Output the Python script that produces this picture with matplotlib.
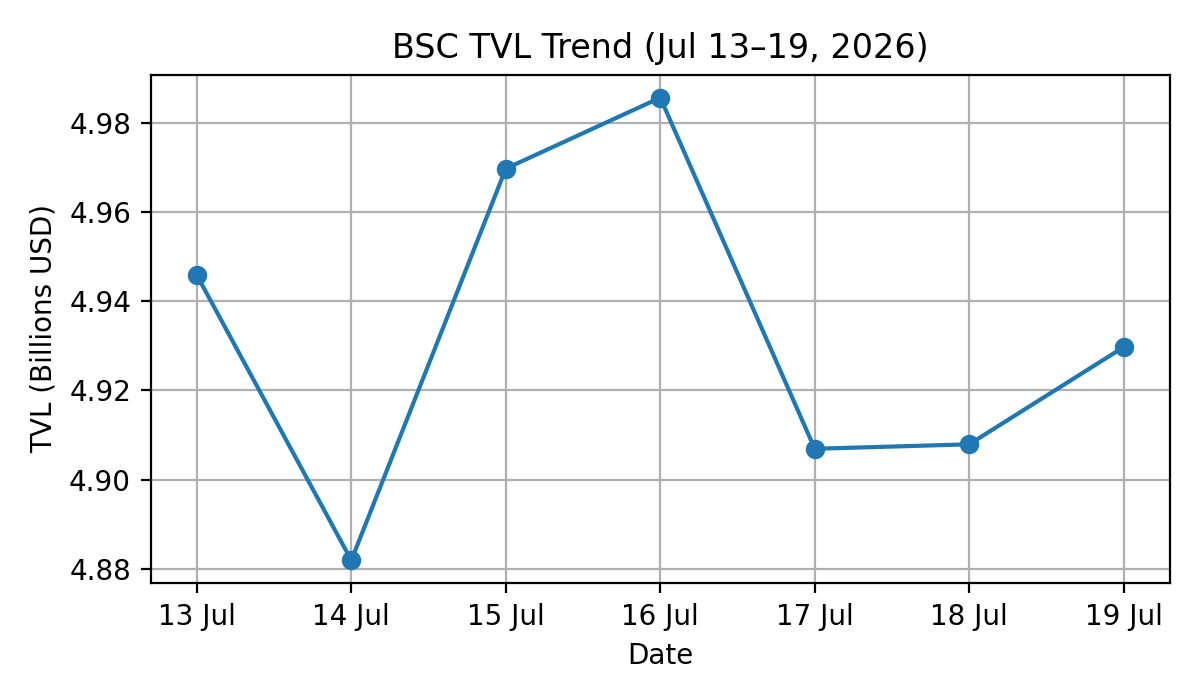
import matplotlib
matplotlib.use("Agg")
import matplotlib.pyplot as plt

dates = ["13 Jul", "14 Jul", "15 Jul", "16 Jul", "17 Jul", "18 Jul", "19 Jul"]
tvl = [4.9458, 4.8819, 4.9697, 4.9856, 4.9069, 4.9079, 4.9297]

fig, ax = plt.subplots(figsize=(6, 3.5), dpi=200)
x = list(range(len(dates)))
ax.plot(x, tvl, marker="o", color="#1f77b4")
ax.set_xticks(x)
ax.set_xticklabels(dates)
ax.set_title("BSC TVL Trend (Jul 13\u201319, 2026)")
ax.set_xlabel("Date")
ax.set_ylabel("TVL (Billions USD)")
ax.grid(True)
fig.tight_layout()
fig.subplots_adjust(top=0.8935)
fig.savefig("out.png")
